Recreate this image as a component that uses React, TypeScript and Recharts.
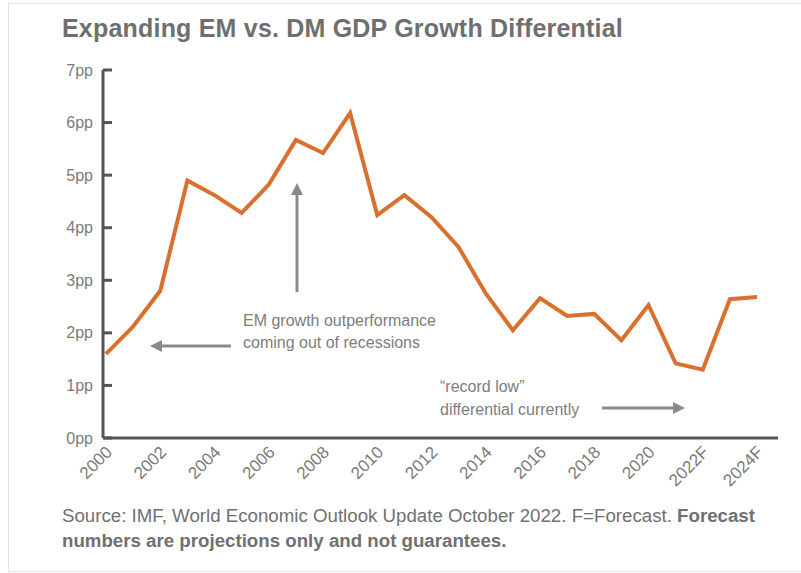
import React from 'react';
import { LineChart, Line, XAxis, YAxis } from 'recharts';

const years = [
  '2000', '2001', '2002', '2003', '2004', '2005', '2006', '2007', '2008', '2009',
  '2010', '2011', '2012', '2013', '2014', '2015', '2016', '2017', '2018', '2019',
  '2020', '2021', '2022F', '2023F', '2024F',
];
const differential = [
  1.6, 2.12, 2.8, 4.9, 4.62, 4.28, 4.82, 5.67, 5.42, 6.18,
  4.24, 4.62, 4.2, 3.63, 2.75, 2.05, 2.66, 2.32, 2.36, 1.86,
  2.53, 1.42, 1.3, 2.64, 2.68,
];
const yTicks = [0, 1, 2, 3, 4, 5, 6, 7];

const data = years.map((year, i) => ({ year, diff: differential[i] }));

const NARROW = "'Liberation Sans Narrow', 'Arial Narrow', 'Liberation Sans', sans-serif";
const AXIS = '#555555';
const LABEL = '#7b7b7b';
const ORANGE = '#d9702d';
const ARROW = '#8a8a8a';

function YTick(props: any) {
  const { x, y, payload } = props;
  // recharts puts x at axisX - tickSize - tickMargin (0 + 10 here)
  const axisX = x + 10;
  return (
    <g>
      <line x1={axisX} x2={axisX + 9} y1={y} y2={y} stroke={AXIS} strokeWidth={3} />
      <text x={x} y={y} dy="0.35em" textAnchor="end" fill={LABEL}
        style={{ fontFamily: NARROW, fontSize: 16 }}>
        {`${payload.value}pp`}
      </text>
    </g>
  );
}

function XTick(props: any) {
  const { x, y, payload } = props;
  return (
    <text x={x + 3} y={y} dy="0.35em" textAnchor="end" fill={LABEL}
      transform={`rotate(-45, ${x + 3}, ${y})`}
      style={{ fontFamily: NARROW, fontSize: 17 }}>
      {payload.value}
    </text>
  );
}

export default function App() {
  return (
    <div style={{ position: 'absolute', left: 0, top: 0, width: 801, height: 573, background: '#fff', overflow: 'hidden' }}>
      {/* light frame */}
      <div style={{ position: 'absolute', left: 8, top: 3, width: 800, height: 567, borderLeft: '1px solid #e2e2e2', borderTop: '1px solid #e2e2e2', borderBottom: '1px solid #e2e2e2' }} />

      <div style={{ position: 'absolute', left: 62, top: 14, fontFamily: "'Liberation Sans', Arial, sans-serif", fontWeight: 700, fontSize: 25, color: '#6f6f6f', whiteSpace: 'nowrap', letterSpacing: '0.2px' }}>
        Expanding EM vs. DM GDP Growth Differential
      </div>

      <LineChart width={801} height={573} data={data}
        margin={{ top: 70, right: 23, left: 43, bottom: 85 }}
        style={{ position: 'absolute', left: 0, top: 0 }}>
        <XAxis dataKey="year" interval={1} tick={<XTick />} tickLine={false}
          tickSize={0} tickMargin={11} height={50}
          padding={{ left: 3, right: 21 }}
          axisLine={{ stroke: AXIS, strokeWidth: 3 }} />
        <YAxis type="number" domain={[0, 7]} ticks={yTicks} width={60}
          tick={<YTick />} tickLine={false} tickSize={0} tickMargin={10}
          axisLine={{ stroke: AXIS, strokeWidth: 3 }} />
        <Line type="linear" dataKey="diff" stroke={ORANGE} strokeWidth={4}
          strokeLinejoin="miter" dot={false} isAnimationActive={false} />
      </LineChart>

      {/* annotations */}
      <svg width={801} height={573} style={{ position: 'absolute', left: 0, top: 0, pointerEvents: 'none' }}>
        <defs>
          <marker id="head" markerWidth="4" markerHeight="4" refX="2" refY="2" orient="auto" markerUnits="strokeWidth">
            <path d="M0,0 L4,2 L0,4 Z" fill={ARROW} />
          </marker>
        </defs>
        <line x1={297} y1={292} x2={297} y2={189} stroke={ARROW} strokeWidth={3} markerEnd="url(#head)" />
        <line x1={231} y1={346} x2={156} y2={346} stroke={ARROW} strokeWidth={3} markerEnd="url(#head)" />
        <line x1={602} y1={408} x2={679} y2={408} stroke={ARROW} strokeWidth={3} markerEnd="url(#head)" />
        <g fill="#7d7d7d" style={{ fontFamily: NARROW, fontSize: 16 }}>
          <text x={243} y={326}>EM growth outperformance</text>
          <text x={243} y={348}>coming out of recessions</text>
          <text x={440} y={392}>{'\u201Crecord low\u201D'}</text>
          <text x={440} y={415}>differential currently</text>
        </g>
      </svg>

      <div style={{ position: 'absolute', left: 62, top: 503, fontFamily: NARROW, fontSize: 18.7, lineHeight: '25px', color: '#707070', whiteSpace: 'nowrap' }}>
        <div>Source: IMF, World Economic Outlook Update October 2022. F=Forecast. <b>Forecast</b></div>
        <div><b>numbers are projections only and not guarantees.</b></div>
      </div>
    </div>
  );
}
